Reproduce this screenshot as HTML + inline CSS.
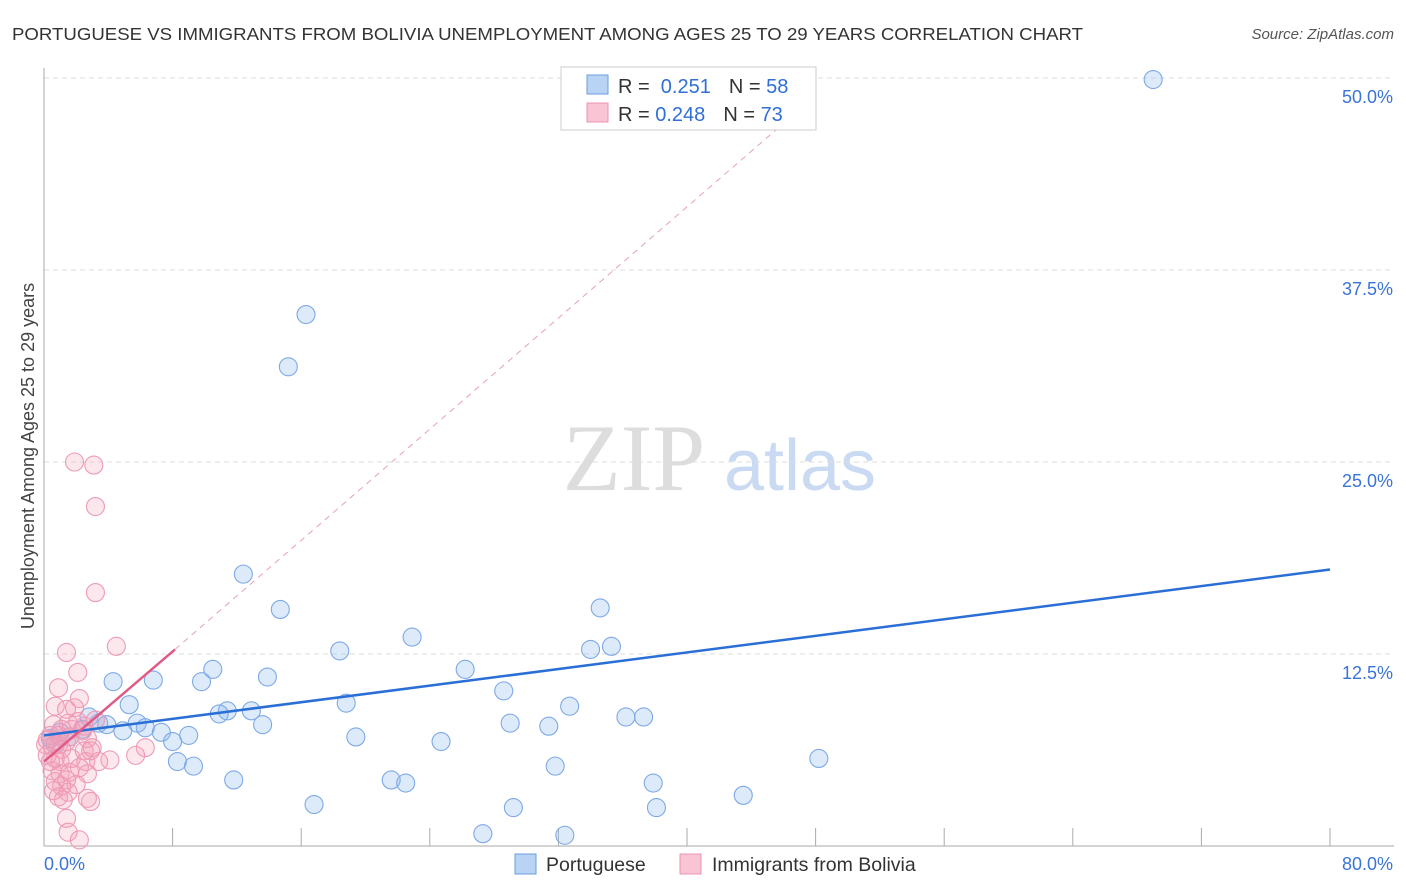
<!DOCTYPE html>
<html><head><meta charset="utf-8"><style>
body{margin:0;background:#fff;font-family:"Liberation Sans",sans-serif;}
svg{display:block}
</style></head><body>
<svg id="chart" width="1406" height="892" xmlns="http://www.w3.org/2000/svg">
<text x="12" y="40" font-size="17.5" fill="#333" textLength="1071" lengthAdjust="spacingAndGlyphs">PORTUGUESE VS IMMIGRANTS FROM BOLIVIA UNEMPLOYMENT AMONG AGES 25 TO 29 YEARS CORRELATION CHART</text>
<text x="1394" y="39" font-size="15" fill="#555" text-anchor="end" font-style="italic">Source: ZipAtlas.com</text>
<text transform="translate(34,456) rotate(-90)" font-size="18" fill="#444" text-anchor="middle">Unemployment Among Ages 25 to 29 years</text>
<g>
<text x="634" y="490" font-size="95" font-family="Liberation Serif,serif" fill="#ddd" text-anchor="middle">ZIP</text>
<text x="800" y="490" font-size="72" fill="#c9daf2" text-anchor="middle">atlas</text>
</g>
<g id="grid"></g><g id="axes"></g><g id="marks"></g>
<g>
<rect x="561" y="67" width="255" height="63" fill="#fff" stroke="#ccc"/>
<rect x="587" y="75" width="21" height="19" fill="#b9d3f5" stroke="#6a9de0"/>
<rect x="587" y="103" width="21" height="19" fill="#f9c4d4" stroke="#ec94b0"/>
<text x="618" y="93" font-size="20" fill="#333">R = <tspan fill="#2f6fd6">&#160;0.251</tspan><tspan dx="18">N = </tspan><tspan fill="#2f6fd6">58</tspan></text>
<text x="618" y="121" font-size="20" fill="#333">R = <tspan fill="#2f6fd6">0.248</tspan><tspan dx="18">N = </tspan><tspan fill="#2f6fd6">73</tspan></text>
</g>
<g>
<rect x="515" y="854" width="21" height="20" fill="#b9d3f5" stroke="#6a9de0"/>
<text x="546" y="871" font-size="19.5" fill="#333">Portuguese</text>
<rect x="680" y="854" width="21" height="20" fill="#f9c4d4" stroke="#ec94b0"/>
<text x="712" y="871" font-size="19.5" fill="#333">Immigrants from Bolivia</text>
</g>
</svg>
<script>
const yTicks=[12.5,25,37.5,50];
const yTickLabels=["12.5%","25.0%","37.5%","50.0%"];
const xTicks=[8,16,24,32,40,48,56,64,72,80];
const blueX=[69,16.3,15.2,12.4,14.7,34.6,35.3,34,18.4,22.9,26.2,10.5,13.9,6.8,4.3,9.8,28.6,18.8,5.3,2.8,11.4,10.9,12.9,32.7,36.2,37.3,3.4,3.9,5.8,6.3,13.6,29,31.4,4.9,7.3,9,8,19.4,24.7,48.2,8.3,9.3,31.8,11.8,21.6,22.5,37.9,43.5,16.8,29.2,38.1,27.3,32.4,1,1.6,0.4,2.4,0.7];
const blueY=[49.9,34.6,31.2,17.7,15.4,15.5,13,12.8,12.7,13.6,11.5,11.5,11,10.8,10.7,10.7,10.1,9.3,9.2,8.4,8.8,8.6,8.8,9.1,8.4,8.4,8,7.9,8,7.7,7.9,8,7.8,7.5,7.4,7.2,6.8,7.1,6.8,5.7,5.5,5.2,5.2,4.3,4.3,4.1,4.1,3.3,2.7,2.5,2.5,0.8,0.7,7.4,7.1,7,7.6,6.6];
const pinkX=[1.9,3.1,3.2,3.2,4.5,1.4,2.1,0.9,2.2,0.7,1.9,1.5,3.2,1.1,2.4,1.6,2.7,0.2,0.5,0.9,1.4,2.5,3,0.2,0.7,1,1.7,2.6,3.4,4.1,0.5,1,1.6,2.2,2.7,1.4,0.7,2,1.1,0.6,1.5,0.9,2.7,2.9,1.2,1.4,1.5,2.2,6.3,5.7,0.4,0.6,0.1,0.4,0.9,1.1,1.7,2.1,1.4,2.5,2.9];
const pinkY=[25,24.8,22.1,16.5,13,12.6,11.3,10.3,9.6,9.1,9,8,8.2,7.6,7.5,7.1,7,6.9,6.5,6.6,6.8,6.2,6.4,5.9,5.7,5.5,5.7,5.5,5.5,5.6,4.9,4.7,4.8,5.1,4.7,4.3,4.2,4.0,3.9,3.6,3.5,3.2,3.1,2.9,3,1.8,0.9,0.4,6.4,5.9,7.2,7.9,6.6,5.5,7.2,6.3,7.6,8.1,8.9,7.8,6.2];
const blueLine=[0,7.2,80,18.0];
const pinkSolid=[0,5.5,8.15,12.8];
const pinkDash=[8.15,12.8,46.4,47.4];
const X=v=>44+v*16.075, Y=v=>846-v*15.36;
const NS="http://www.w3.org/2000/svg";
function mk(p,t,a){const e=document.createElementNS(NS,t);for(const k in a)e.setAttribute(k,a[k]);p.appendChild(e);return e;}
const grid=document.getElementById('grid'),axes=document.getElementById('axes'),marks=document.getElementById('marks');
yTicks.forEach((t,i)=>{
 const l=mk(grid,'line',{x1:44,x2:1394,y1:Y(t),y2:Y(t),stroke:'#ddd','stroke-dasharray':'5,4'});
 
 
 const tx=mk(axes,'text',{x:1393,y:Y(t)+25,'font-size':18,fill:'#3a74d6','text-anchor':'end'});
 tx.textContent=yTickLabels[i];
 
 
});
const ax=mk(axes,'line',{x1:44,x2:44,y1:68,y2:846,stroke:'#aaa'});


const bx=mk(axes,'line',{x1:44,x2:1394,y1:846,y2:846,stroke:'#aaa'});


xTicks.forEach(t=>{const l=mk(axes,'line',{x1:X(t),x2:X(t),y1:828,y2:846,stroke:'#aaa'});
 
 });
const x0=mk(axes,'text',{x:44,y:870,'font-size':18,fill:'#3a74d6'});x0.textContent='0.0%';


const x1=mk(axes,'text',{x:1393,y:870,'font-size':18,fill:'#3a74d6','text-anchor':'end'});x1.textContent='80.0%';


blueX.forEach((v,i)=>{const c=mk(marks,'circle',{cx:X(v),cy:Y(blueY[i]),r:9,fill:'rgba(140,185,240,0.3)',stroke:'#7ea9e6','stroke-width':1.1});
 
 });
pinkX.forEach((v,i)=>{const c=mk(marks,'circle',{cx:X(v),cy:Y(pinkY[i]),r:9,fill:'rgba(245,160,185,0.25)',stroke:'#ee9ab5','stroke-width':1.1});
 
 });
const bl=mk(marks,'line',{x1:X(blueLine[0]),y1:Y(blueLine[1]),x2:X(blueLine[2]),y2:Y(blueLine[3]),stroke:'#2a6fd6','stroke-width':2.5});


const ps=mk(marks,'line',{x1:X(pinkSolid[0]),y1:Y(pinkSolid[1]),x2:X(pinkSolid[2]),y2:Y(pinkSolid[3]),stroke:'#e05a88','stroke-width':2.5});


const pd=mk(marks,'line',{x1:X(pinkDash[0]),y1:Y(pinkDash[1]),x2:X(pinkDash[2]),y2:Y(pinkDash[3]),stroke:'#e8a0b8','stroke-width':1,'stroke-dasharray':'6,5'});


</script>
</body></html>
